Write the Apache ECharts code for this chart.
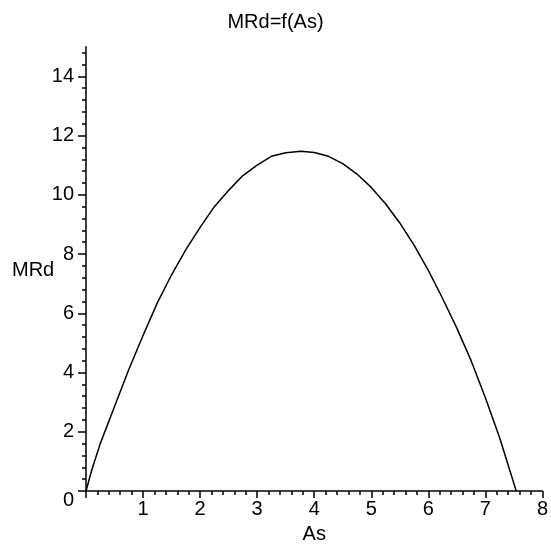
<!DOCTYPE html>
<html>
<head>
<meta charset="utf-8">
<script src="https://cdn.jsdelivr.net/npm/echarts@6/dist/echarts.min.js"></script>
<style>
html,body{margin:0;padding:0;background:#fff;}
#c{width:551px;height:549px;}
</style>
</head>
<body>
<div id="c"></div>
<script>
var titleText = 'MRd=f(As)';
var xName = 'As';
var yName = 'MRd';
var xTicks = [0, 1, 2, 3, 4, 5, 6, 7, 8];
var yTicks = [0, 2, 4, 6, 8, 10, 12, 14];
var asValues  = [0, 0.1, 0.25, 0.5, 0.75, 1, 1.25, 1.5, 1.75, 2, 2.25, 2.5, 2.75, 3, 3.25, 3.5, 3.77, 4, 4.25, 4.5, 4.75, 5, 5.25, 5.5, 5.75, 6, 6.25, 6.5, 6.75, 7, 7.25, 7.5, 7.54];
var mrdValues = [0, 0.7, 1.6, 2.85, 4.1, 5.25, 6.35, 7.3, 8.15, 8.9, 9.6, 10.15, 10.65, 11.0, 11.3, 11.42, 11.47, 11.43, 11.3, 11.05, 10.7, 10.25, 9.7, 9.05, 8.3, 7.45, 6.5, 5.5, 4.4, 3.15, 1.8, 0.25, 0];

var pts = asValues.map(function (x, i) { return [x, mrdValues[i]]; });
var font = '"Liberation Sans", Arial, sans-serif';

var chart = echarts.init(document.getElementById('c'), null, {renderer: 'canvas'});
chart.setOption({
  animation: false,
  backgroundColor: '#fff',
  title: {
    show: false
  },
  graphic: [
    {
      type: 'text', left: 'center', top: 12,
      style: {text: titleText, fontFamily: font, fontSize: 20, fill: '#000'}
    },
    {
      type: 'text', left: 12, top: 260,
      style: {text: yName, fontFamily: font, fontSize: 20, fill: '#000'}
    }
  ],
  grid: {left: 86, right: 8, top: 46.7, bottom: 52.3, containLabel: false},
  xAxis: {
    type: 'value',
    min: 0, max: 8, interval: 1,
    name: xName,
    nameLocation: 'middle',
    nameGap: 33,
    nameTextStyle: {fontFamily: font, fontSize: 20, color: '#000'},
    axisLine: {show: true, onZero: false, lineStyle: {color: '#000', width: 1.5}},
    axisTick: {show: true, length: 7, lineStyle: {color: '#000', width: 1.5}},
    minorTick: {show: true, splitNumber: 5, length: 4, lineStyle: {color: '#000', width: 1.5}},
    axisLabel: {
      margin: 8,
      fontFamily: font, fontSize: 20, color: '#000',
      formatter: function (v) { return v === 0 ? '' : String(v); }
    },
    splitLine: {show: false}
  },
  yAxis: {
    type: 'value',
    min: 0, max: 15, interval: 2,
    axisLine: {show: true, onZero: false, lineStyle: {color: '#000', width: 1.5}},
    axisTick: {show: true, length: 8, customValues: yTicks, lineStyle: {color: '#000', width: 1.5}},
    minorTick: {show: true, splitNumber: 5, length: 4, lineStyle: {color: '#000', width: 1.5}},
    axisLabel: {
      margin: 12,
      customValues: yTicks,
      fontFamily: font, fontSize: 20, color: '#000',
      formatter: function (v) { return v === 0 ? '{z|0}' : String(v); },
      rich: {z: {fontFamily: font, fontSize: 20, color: '#000', padding: [18, 0, 0, 0]}}
    },
    splitLine: {show: false}
  },
  series: [{
    type: 'line',
    data: pts,
    showSymbol: false,
    symbol: 'none',
    lineStyle: {color: '#000', width: 1.5},
    smooth: false
  }]
});
</script>
</body>
</html>
